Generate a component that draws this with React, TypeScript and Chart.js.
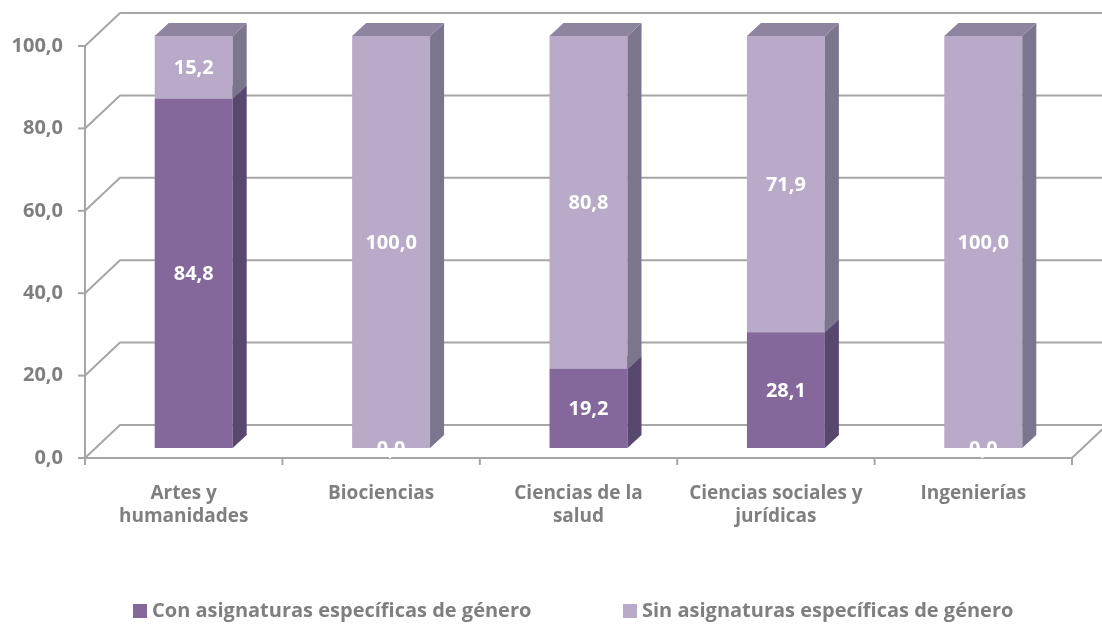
import React, { useEffect, useRef } from 'react';
import { Chart, registerables } from 'chart.js';

Chart.register(...registerables);

const categories: (string | string[])[] = [
  ['Artes y', 'humanidades'],
  'Biociencias',
  ['Ciencias de la', 'salud'],
  ['Ciencias sociales y', 'jurídicas'],
  'Ingenierías',
];
const seriesNames = ['Con asignaturas específicas de género', 'Sin asignaturas específicas de género'];
const conValues = [84.8, 0.0, 19.2, 28.1, 0.0];
const sinValues = [15.2, 100.0, 80.8, 71.9, 100.0];
const yMin = 0;
const yMax = 100;
const yStep = 20;

const FACE = ['#84679B', '#B9AACA'];
const SIDE = ['#58476E', '#7B758D'];
const TOP = ['#6E5A85', '#8F849F'];
const GRID = '#A6A6A6';
const TEXT = '#7F7F7F';
const FONT = "'Open Sans', sans-serif";

const WALL_DX = 35;
const WALL_DY = -33;
const BAR_DX = 10;
const BAR_DY = -10;
const DEPTH_X = 14;
const DEPTH_Y = -13;

const fmt = (v: number) => v.toFixed(1).replace('.', ',');

const threeD = {
  id: 'threeD',
  beforeDatasetsDraw(chart: any) {
    const { ctx, chartArea, scales } = chart;
    const ys = scales.y;
    const L = chartArea.left;
    const R = chartArea.right;
    const B = chartArea.bottom;
    const n = categories.length;
    ctx.save();
    ctx.strokeStyle = GRID;
    ctx.lineWidth = 2;
    // grid on walls
    ys.ticks.forEach((t: any) => {
      const y = ys.getPixelForValue(t.value);
      ctx.beginPath();
      ctx.moveTo(L, y);
      ctx.lineTo(L + WALL_DX, y + WALL_DY);
      ctx.lineTo(R + WALL_DX, y + WALL_DY);
      ctx.stroke();
      ctx.beginPath();
      ctx.moveTo(L - 7, y);
      ctx.lineTo(L, y);
      ctx.stroke();
    });
    // front vertical axis
    ctx.beginPath();
    ctx.moveTo(L, ys.getPixelForValue(yMax));
    ctx.lineTo(L, B);
    ctx.stroke();
    // floor front edge and right edge
    ctx.beginPath();
    ctx.moveTo(L, B);
    ctx.lineTo(R, B);
    ctx.lineTo(R + WALL_DX, B + WALL_DY);
    ctx.stroke();
    // category tick marks
    for (let i = 0; i <= n; i++) {
      const x = L + (i * (R - L)) / n;
      ctx.beginPath();
      ctx.moveTo(x, B);
      ctx.lineTo(x, B + 7);
      ctx.stroke();
    }

    // bars
    chart.data.datasets.forEach((ds: any, d: number) => {
      const meta = chart.getDatasetMeta(d);
      meta.data.forEach((el: any, i: number) => {
        const v = ds.data[i];
        if (!v) return;
        const { x, y, base, width } = el.getProps(['x', 'y', 'base', 'width'], true);
        const x0 = x - width / 2 + BAR_DX;
        const x1 = x0 + width;
        const yt = Math.min(y, base) + BAR_DY;
        const yb = Math.max(y, base) + BAR_DY;
        ctx.fillStyle = FACE[d];
        ctx.fillRect(x0, yt, width, yb - yt);
        ctx.fillStyle = SIDE[d];
        ctx.beginPath();
        ctx.moveTo(x1, yt);
        ctx.lineTo(x1 + DEPTH_X, yt + DEPTH_Y);
        ctx.lineTo(x1 + DEPTH_X, yb + DEPTH_Y);
        ctx.lineTo(x1, yb);
        ctx.closePath();
        ctx.fill();
        ctx.fillStyle = TOP[d];
        ctx.beginPath();
        ctx.moveTo(x0, yt);
        ctx.lineTo(x0 + DEPTH_X, yt + DEPTH_Y);
        ctx.lineTo(x1 + DEPTH_X, yt + DEPTH_Y);
        ctx.lineTo(x1, yt);
        ctx.closePath();
        ctx.fill();
      });
    });

    // data labels
    ctx.fillStyle = '#FFFFFF';
    ctx.font = `bold 20px ${FONT}`;
    ctx.textAlign = 'center';
    ctx.textBaseline = 'middle';
    chart.data.datasets.forEach((ds: any, d: number) => {
      const meta = chart.getDatasetMeta(d);
      meta.data.forEach((el: any, i: number) => {
        const v = ds.data[i];
        const { x, y, base } = el.getProps(['x', 'y', 'base'], true);
        ctx.fillText(fmt(v), x + BAR_DX, (y + base) / 2 + BAR_DY + 1);
      });
    });
    ctx.restore();
    return false;
  },
  afterDraw(chart: any) {
    const { ctx } = chart;
    const markerX = [133, 623];
    const midY = 611;
    ctx.save();
    ctx.font = `bold 20px ${FONT}`;
    ctx.textAlign = 'left';
    ctx.textBaseline = 'middle';
    chart.data.datasets.forEach((ds: any, d: number) => {
      ctx.fillStyle = FACE[d];
      ctx.fillRect(markerX[d], midY - 7, 14, 14);
      ctx.fillStyle = TEXT;
      ctx.fillText(ds.label, markerX[d] + 19, midY);
    });
    ctx.restore();
  },
};

export default function App() {
  const ref = useRef<HTMLCanvasElement>(null);
  useEffect(() => {
    const chart = new Chart(ref.current as HTMLCanvasElement, {
      type: 'bar',
      data: {
        labels: categories as any,
        datasets: [
          { label: seriesNames[0], data: conValues, backgroundColor: FACE[0], barPercentage: 0.395, categoryPercentage: 1 },
          { label: seriesNames[1], data: sinValues, backgroundColor: FACE[1], barPercentage: 0.395, categoryPercentage: 1 },
        ],
      },
      options: {
        responsive: false,
        animation: false,
        devicePixelRatio: 1,
        layout: { padding: { left: 0, right: 30, top: 46, bottom: 0 } },
        plugins: { legend: { display: false }, tooltip: { enabled: false } },
        scales: {
          x: {
            stacked: true,
            grid: { display: false, drawTicks: false },
            border: { display: false },
            ticks: {
              color: TEXT,
              font: { family: FONT, size: 19, weight: 'bold', lineHeight: 1.2 },
              padding: 24,
              maxRotation: 0,
              autoSkip: false,
            },
            afterFit: (s: any) => {
              s.height = 166;
            },
          },
          y: {
            stacked: true,
            min: yMin,
            max: yMax,
            grid: { display: false, drawTicks: false },
            border: { display: false },
            ticks: {
              stepSize: yStep,
              color: TEXT,
              font: { family: FONT, size: 20, weight: 'bold' },
              padding: 22,
              callback: (v: any) => fmt(Number(v)),
            },
            afterFit: (s: any) => {
              s.width = 85;
            },
          },
        },
      },
      plugins: [threeD],
    });
    return () => chart.destroy();
  }, []);
  return (
    <div style={{ position: 'absolute', left: 0, top: 0, width: 1102, height: 624, background: '#FFFFFF' }}>
      <canvas ref={ref} width={1102} height={624} style={{ display: 'block' }} />
    </div>
  );
}
